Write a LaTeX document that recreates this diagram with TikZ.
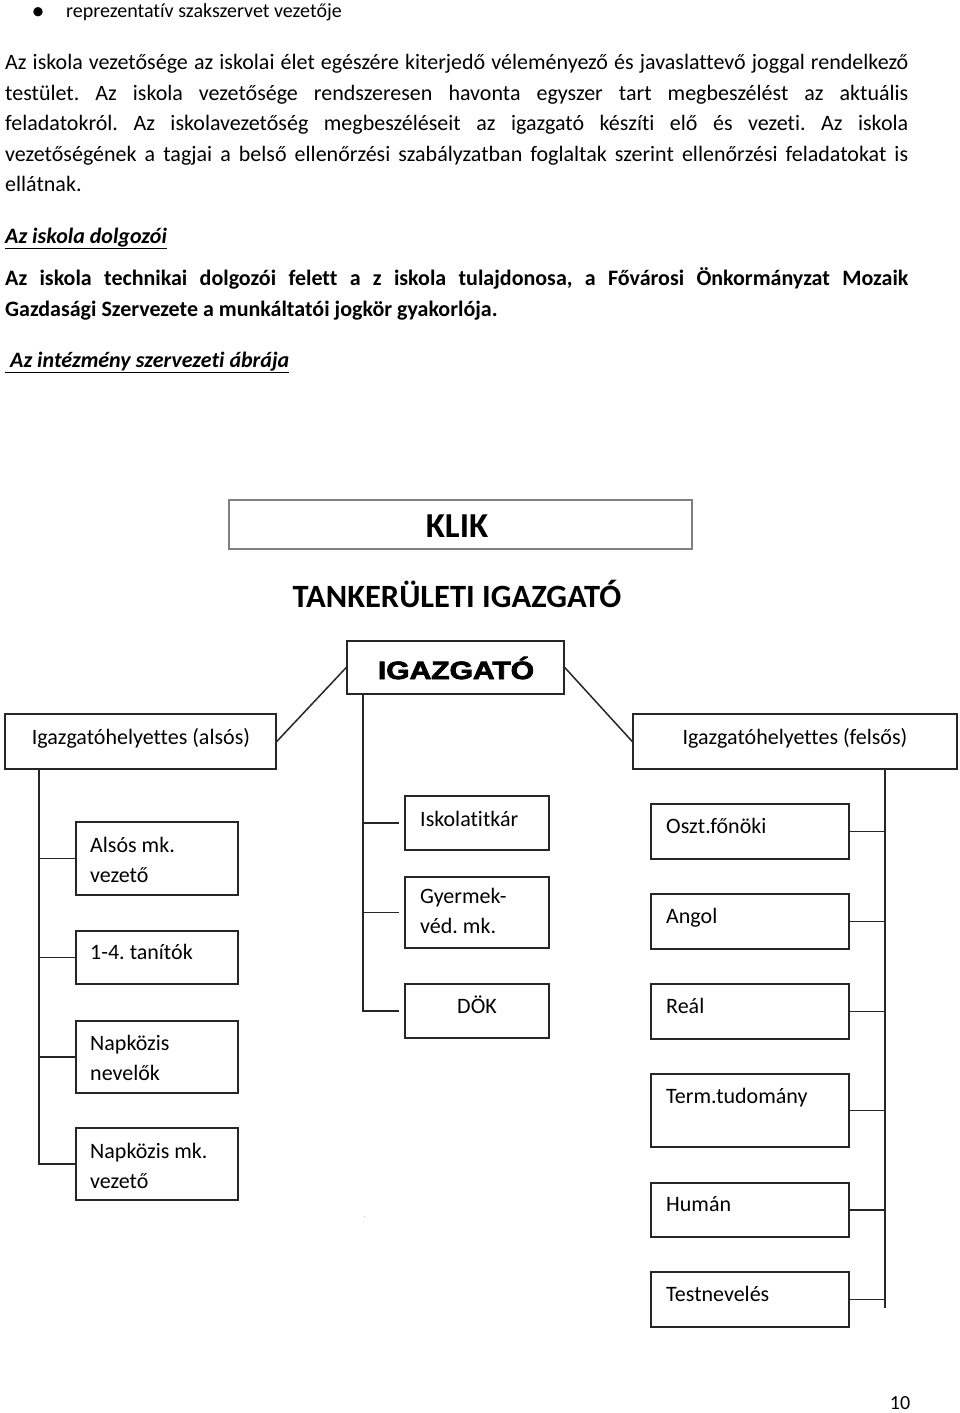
\documentclass[tikz,border=0pt]{standalone}
\usepackage{fontspec}
\setmainfont{Carlito}[Ligatures={NoCommon}]
\newfontfamily\blackfont[BoldFeatures={FakeBold=3}]{Liberation Sans}
\usetikzlibrary{fit}
\frenchspacing
\newcommand\tl[1]{\begin{tabular}[t]{@{}l@{}}#1\end{tabular}}
\newcommand\jl[1]{\makebox[903pt][s]{#1}}
\tikzset{
  box/.style={draw=black!85, line width=1.5pt, inner sep=0pt},
  conn/.style={draw=black!85, line width=1.5pt},
  body/.style={anchor=base west, inner sep=0pt, font=\fontsize{22}{26}\selectfont},
  bodyb/.style={body, font=\fontsize{22}{26}\selectfont\bfseries},
  ctxt/.style={anchor=base west, inner sep=0pt, font=\fontsize{22}{30}\selectfont},
  ctxtc/.style={ctxt, anchor=base},
}
\begin{document}
\begin{tikzpicture}[x=1pt,y=-1pt]
\useasboundingbox (0,0) rectangle (960,1413);
% ---------- text above the chart ----------
\node[body, anchor=base, font=\fontsize{26}{26}\selectfont] (bullet) at (38,20) {•};
\node[body, font=\fontsize{20}{24}\selectfont] (rep) at (66,18) {reprezentatív szakszervet vezetője};
\node[body] (p1) at (5,70) {\jl{Az iskola vezetősége az iskolai élet egészére kiterjedő véleményező és javaslattevő joggal rendelkező}};
\node[body] (p2) at (5,100) {\jl{testület. Az iskola vezetősége rendszeresen havonta egyszer tart megbeszélést az aktuális}};
\node[body] (p3) at (5,130.5) {\jl{feladatokról. Az iskolavezetőség megbeszéléseit az igazgató készíti elő és vezeti. Az iskola}};
\node[body] (p4) at (5,161) {\jl{vezetőségének a tagjai a belső ellenőrzési szabályzatban foglaltak szerint ellenőrzési feladatokat is}};
\node[body] (p5) at (5,191.5) {ellátnak.};
\node[bodyb] (h1) at (5,243) {\itshape\underline{Az iskola dolgozói}};
\node[bodyb] (b1) at (5,285) {\jl{Az iskola technikai dolgozói felett a z iskola tulajdonosa, a Fővárosi Önkormányzat Mozaik}};
\node[bodyb] (b2) at (5,316) {Gazdasági Szervezete a munkáltatói jogkör gyakorlója.};
\node[bodyb] (h2) at (5,367) {\itshape\underline{\ Az intézmény szervezeti ábrája}};
% ---------- top of the chart ----------
\node[box, draw=black!50, line width=1.5pt, fit={(229,500) (692,549)}] (klik) {};
\node[anchor=base, inner sep=0pt, font=\fontsize{35}{40}\selectfont\bfseries] (klikt) at (457,537) {KLIK};
\node[anchor=base, inner sep=0pt, font=\fontsize{32.5}{36}\selectfont\bfseries] (tank) at (457,607) {TANKERÜLETI IGAZGATÓ};
\node[box, fit={(347,641) (564,694)}] (igaz) {};
\node[anchor=base, inner sep=0pt, font=\fontsize{25}{28}\selectfont\blackfont\bfseries] (igazt) at (456,679) {\scalebox{1.2}[1]{IGAZGATÓ}};
\node[box, fit={(5,714) (276,769)}] (also) {};
\node[ctxtc] (alsot) at (141,744) {Igazgatóhelyettes (alsós)};
\node[box, fit={(633,714) (957,769)}] (felso) {};
\node[ctxtc] (felsot) at (795,744) {Igazgatóhelyettes (felsős)};
\draw[conn] (igaz.west) -- (also.east);
\draw[conn] (igaz.east) -- (felso.west);
% ---------- left column ----------
\coordinate (lt) at (39,0);
\node[box, fit={(76,822) (238,895)}] (alsmk) {};
\node[ctxt] (alsmkt) at (90,852) {\tl{Alsós mk.\\vezető}};
\node[box, fit={(76,931) (238,984)}] (tan) {};
\node[ctxt] (tant) at (90,959) {1-4. tanítók};
\node[box, fit={(76,1021) (238,1093)}] (napn) {};
\node[ctxt] (napnt) at (90,1050) {\tl{Napközis\\nevelők}};
\node[box, fit={(76,1128) (238,1200)}] (napmk) {};
\node[ctxt] (napmkt) at (90,1158) {\tl{Napközis mk.\\vezető}};
\draw[conn] (also.south -| lt) |- (napmk.west);
\draw[conn] (lt |- alsmk.west) -- (alsmk.west);
\draw[conn] (lt |- tan.west) -- (tan.west);
\draw[conn] (lt |- napn.west) -- (napn.west);
% ---------- middle column ----------
\coordinate (mt) at (363,0);
\node[box, fit={(405,796) (549,850)}] (iskt) {};
\node[ctxt] (isktt) at (420,826) {Iskolatitkár};
\node[box, fit={(405,877) (549,948)}] (gyer) {};
\node[ctxt] (gyert) at (420,903) {\tl{Gyermek-\\véd. mk.}};
\node[box, fit={(405,984) (549,1038)}] (dok) {};
\node[ctxtc] (dokt) at (477,1013) {DÖK};
\draw[conn, shorten >=5pt] (igaz.south -| mt) |- (dok.west);
\draw[conn, shorten >=5pt] (mt |- iskt.west) -- (iskt.west);
\draw[conn, shorten >=5pt] (mt |- gyer.west) -- (gyer.west);
\node[inner sep=0pt, font=\fontsize{6}{6}\selectfont, text=black!60] (dot) at (365,1217) {.};
% ---------- right column ----------
\coordinate (rt) at (885,0);
\coordinate (rtend) at (885,1308);
\node[box, fit={(651,804) (849,859)}] (oszt) {};
\node[ctxt] (osztt) at (666,833) {Oszt.főnöki};
\node[box, fit={(651,894) (849,949)}] (ang) {};
\node[ctxt] (angt) at (666,923) {Angol};
\node[box, fit={(651,984) (849,1039)}] (real) {};
\node[ctxt] (realt) at (666,1013) {Reál};
\node[box, fit={(651,1074) (849,1147)}] (term) {};
\node[ctxt] (termt) at (666,1103) {Term.tudomány};
\node[box, fit={(651,1183) (849,1237)}] (hum) {};
\node[ctxt] (humt) at (666,1211) {Humán};
\node[box, fit={(651,1272) (849,1327)}] (test) {};
\node[ctxt] (testt) at (666,1301) {Testnevelés};
\draw[conn] (felso.south -| rt) -- (rtend);
\draw[conn] (oszt.east) -- (oszt.east -| rt);
\draw[conn] (ang.east) -- (ang.east -| rt);
\draw[conn] (real.east) -- (real.east -| rt);
\draw[conn] (term.east) -- (term.east -| rt);
\draw[conn] (hum.east) -- (hum.east -| rt);
\draw[conn] (test.east) -- (test.east -| rt);
% ---------- page number ----------
\node[anchor=base, inner sep=0pt, font=\fontsize{20}{24}\selectfont] (pnum) at (900,1409) {10};
\end{tikzpicture}
\end{document}
